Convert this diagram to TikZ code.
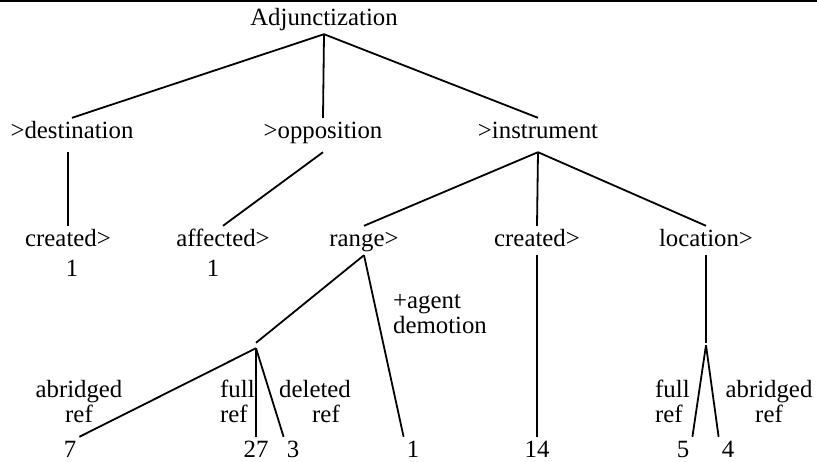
\documentclass[tikz,border=0pt]{standalone}
\usepackage{fontspec}
\setmainfont{Liberation Serif}
\usetikzlibrary{positioning}

\begin{document}
\begin{tikzpicture}[x=1pt,y=-1pt,font=\fontsize{24.8}{25}\selectfont,
  lab/.style={anchor=base,inner sep=3pt,text height=17pt,text depth=6pt},
  mid/.style={lab,text depth=11pt},
  note/.style={anchor=base,inner sep=0pt,align=center},
  branch/.style={line width=1.8pt}]
\useasboundingbox (0,0) rectangle (817,461);
% rule along the top edge
\draw[line width=2.5pt] (0,1) -- (817,1);
% root and first level
\node[lab] (root) at (324,25) {Adjunctization};
\node[mid] (dest) at (72,138) {>destination};
\node[mid] (opp) at (323,138) {>opposition};
\node[mid] (instr) at (538,138) {>instrument};
% second level
\node[lab] (cre1) at (68,246) {created>};
\node[lab] (aff) at (223,246) {affected>};
\node[lab] (range) at (364,246) {range>};
\node[lab] (cre2) at (537,246) {created>};
\node[lab] (loc) at (706,246) {location>};
\node[lab] (c1) at (72,276) {1};
\node[lab] (c2) at (213,276) {1};
\node[note,align=left,anchor=base west] (agent) at (393,333) {+agent\\demotion};
% empty branching points
\node[inner sep=2.5pt] (jr) at (256,345.5) {};
\node[inner sep=1pt] (jl) at (706,344) {};
% leaf labels (base = last line)
\node[note] (abr1) at (79,422) {abridged\\ref};
\node[note,align=left,anchor=base west] (full1) at (220,422) {full\\ref};
\node[note] (del) at (315,422) {deleted\\\hspace*{22pt}ref};
\node[note,align=left,anchor=base west] (full2) at (655,422) {full\\ref};
\node[note] (abr2) at (769,422) {abridged\\ref};
% counts
\node[lab] (n7) at (70,457) {7};
\node[lab] (n27) at (256,457) {27};
\node[lab] (n3) at (293,457) {3};
\node[lab] (n1) at (413,457) {1};
\node[lab] (n14) at (537,457) {14};
\node[lab] (n5) at (683,457) {5};
\node[lab] (n4) at (728,457) {4};
% branches
\draw[branch] (root.south) -- (dest.north);
\draw[branch] (root.south) -- (opp.north);
\draw[branch] (root.south) -- (instr.north);
\draw[branch] (cre1.north |- dest.south) -- (cre1.north);
\draw[branch] (opp.south) -- (aff.north);
\draw[branch] (instr.south) -- (range.north);
\draw[branch] (instr.south) -- (cre2.north);
\draw[branch] (instr.south) -- (loc.north);
\draw[branch] (range.south) -- (jr.north);
\draw[branch] (range.south) -- (n1.north west);
\draw[branch] (jr.south) -- (n7.north east);
\draw[branch] (jr.south) -- (n27.north);
\draw[branch] (jr.south) -- (n3.north west);
\draw[branch] (cre2.south) -- (n14.north);
\draw[branch] (loc.south) -- (jl.north);
\draw[branch] (jl.south) -- (n5.north east);
\draw[branch] (jl.south) -- (n4.north west);
\end{tikzpicture}
\end{document}
